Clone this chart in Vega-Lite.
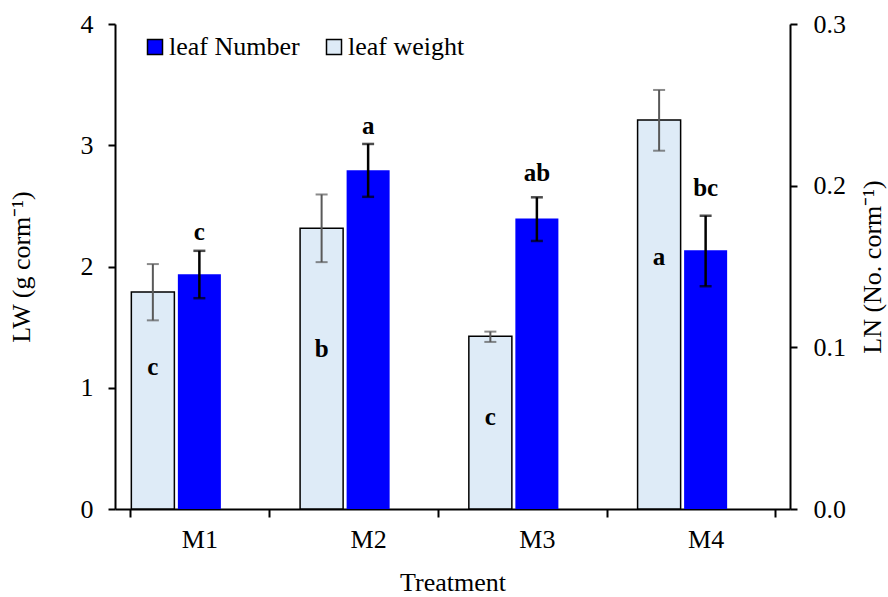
{
  "$schema": "https://vega.github.io/schema/vega-lite/v6.json",
  "width": 675,
  "height": 485,
  "autosize": {"type": "none"},
  "padding": {"left": 115, "top": 24, "right": 98, "bottom": 88},
  "background": "white",
  "config": {
    "font": "Liberation Serif",
    "view": {"stroke": null},
    "axis": {
      "labelFont": "Liberation Serif",
      "titleFont": "Liberation Serif",
      "labelFontSize": 26,
      "titleFontSize": 26,
      "titleFontWeight": "normal",
      "labelColor": "black",
      "titleColor": "black",
      "domainColor": "black",
      "tickColor": "black",
      "domainWidth": 2,
      "tickWidth": 2,
      "grid": false
    }
  },
  "datasets": {
    "lw": [
      {"t": "M1", "s": "leaf weight", "v": 1.79, "lo": 1.556, "hi": 2.02, "lab": "c", "ly": 1.17},
      {"t": "M2", "s": "leaf weight", "v": 2.316, "lo": 2.036, "hi": 2.594, "lab": "b", "ly": 1.32},
      {"t": "M3", "s": "leaf weight", "v": 1.424, "lo": 1.378, "hi": 1.463, "lab": "c", "ly": 0.758},
      {"t": "M4", "s": "leaf weight", "v": 3.208, "lo": 2.955, "hi": 3.456, "lab": "a", "ly": 2.08}
    ],
    "ln": [
      {"t": "M1", "s": "leaf Number", "v": 0.1452, "lo": 0.1304, "hi": 0.1597, "lab": "c", "ly": 0.1714},
      {"t": "M2", "s": "leaf Number", "v": 0.2096, "lo": 0.1931, "hi": 0.2258, "lab": "a", "ly": 0.2369},
      {"t": "M3", "s": "leaf Number", "v": 0.1797, "lo": 0.1658, "hi": 0.1928, "lab": "ab", "ly": 0.2078},
      {"t": "M4", "s": "leaf Number", "v": 0.1601, "lo": 0.1378, "hi": 0.1814, "lab": "bc", "ly": 0.1985}
    ]
  },
  "encoding": {
    "x": {
      "field": "t",
      "type": "nominal",
      "scale": {"paddingInner": 0.173, "paddingOuter": 0.0865},
      "axis": {
        "title": "Treatment",
        "labelAngle": 0,
        "tickBand": "extent",
        "tickSize": 8,
        "labelPadding": 9,
        "titlePadding": 17
      }
    },
    "xOffset": {
      "field": "s",
      "type": "nominal",
      "scale": {"domain": ["leaf weight", "leaf Number", "z"], "paddingInner": 0.075, "paddingOuter": 0.0375}
    }
  },
  "layer": [
    {
      "data": {"name": "lw"},
      "layer": [
        {
          "mark": {"type": "bar", "stroke": "black", "strokeWidth": 1.5},
          "encoding": {
            "y": {
              "field": "v",
              "type": "quantitative",
              "title": "LW (g corm⁻¹)",
              "scale": {"domain": [0, 4]},
              "axis": {"orient": "left", "values": [0, 1, 2, 3, 4], "format": "d", "tickSize": 7, "labelPadding": 15, "titlePadding": 46}
            },
            "color": {
              "field": "s",
              "type": "nominal",
              "scale": {"domain": ["leaf Number", "leaf weight"], "range": ["#0000FF", "#DEEBF7"]},
              "legend": {
                "orient": "none",
                "direction": "horizontal",
                "legendX": 27,
                "legendY": 10,
                "title": null,
                "symbolType": "square",
                "symbolSize": 225,
                "labelFont": "Liberation Serif",
                "labelFontSize": 26,
                "labelColor": "black",
                "labelOffset": 1,
                "columnPadding": 21,
                "padding": 0
              }
            }
          }
        },
        {
          "mark": {"type": "rule", "color": "#595959", "strokeWidth": 2},
          "encoding": {
            "y": {"field": "lo", "type": "quantitative", "title": "LW (g corm⁻¹)"},
            "y2": {"field": "hi"}
          }
        },
        {
          "mark": {"type": "tick", "color": "#595959", "thickness": 2, "size": 12},
          "encoding": {"y": {"field": "lo", "type": "quantitative", "title": "LW (g corm⁻¹)"}}
        },
        {
          "mark": {"type": "tick", "color": "#595959", "thickness": 2, "size": 12},
          "encoding": {"y": {"field": "hi", "type": "quantitative", "title": "LW (g corm⁻¹)"}}
        },
        {
          "mark": {"type": "text", "fontSize": 25, "fontWeight": "bold", "baseline": "middle", "color": "black"},
          "encoding": {
            "y": {"field": "ly", "type": "quantitative", "title": "LW (g corm⁻¹)"},
            "text": {"field": "lab"}
          }
        }
      ]
    },
    {
      "data": {"name": "ln"},
      "layer": [
        {
          "mark": {"type": "bar", "color": "#0000FF"},
          "encoding": {
            "y": {
              "field": "v",
              "type": "quantitative",
              "title": "LN (No. corm⁻¹)",
              "scale": {"domain": [0, 0.3]},
              "axis": {"orient": "right", "values": [0, 0.1, 0.2, 0.3], "format": ".1f", "tickSize": 7, "labelPadding": 16, "titlePadding": 14, "titleAngle": 270, "titleBaseline": "top"}
            }
          }
        },
        {
          "mark": {"type": "rule", "color": "black", "strokeWidth": 2.5},
          "encoding": {
            "y": {"field": "lo", "type": "quantitative", "title": "LN (No. corm⁻¹)"},
            "y2": {"field": "hi"}
          }
        },
        {
          "mark": {"type": "tick", "color": "black", "thickness": 2.5, "size": 12},
          "encoding": {"y": {"field": "lo", "type": "quantitative", "title": "LN (No. corm⁻¹)"}}
        },
        {
          "mark": {"type": "tick", "color": "black", "thickness": 2.5, "size": 12},
          "encoding": {"y": {"field": "hi", "type": "quantitative", "title": "LN (No. corm⁻¹)"}}
        },
        {
          "mark": {"type": "text", "fontSize": 25, "fontWeight": "bold", "baseline": "middle", "color": "black"},
          "encoding": {
            "y": {"field": "ly", "type": "quantitative", "title": "LN (No. corm⁻¹)"},
            "text": {"field": "lab"}
          }
        }
      ]
    }
  ],
  "resolve": {"scale": {"y": "independent"}}
}
